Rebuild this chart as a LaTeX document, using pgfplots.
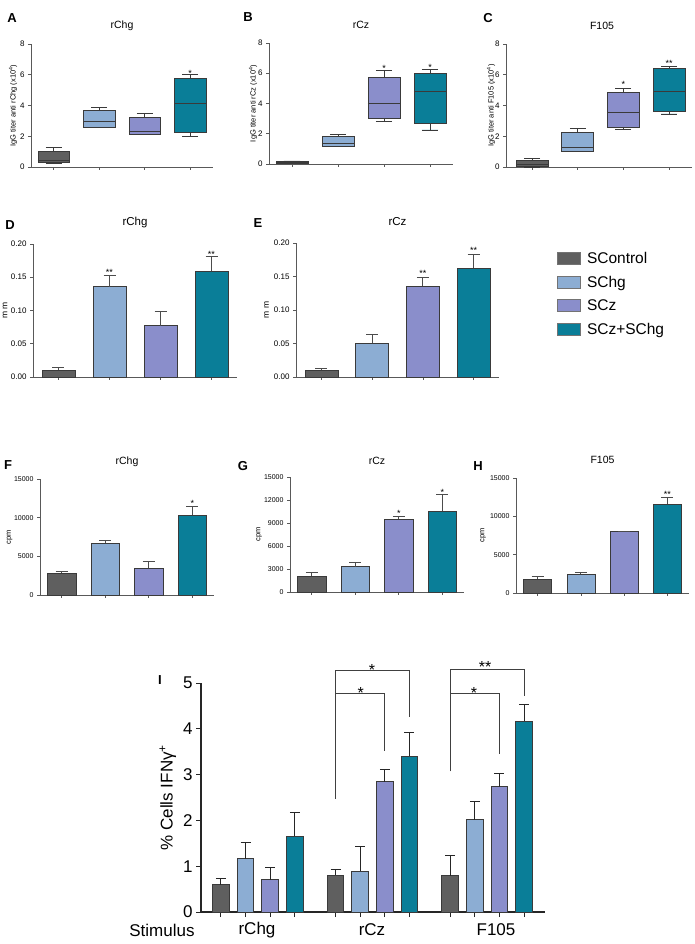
\documentclass[border=0pt]{standalone}
\usepackage{fontspec}
\setmainfont{Liberation Sans}
\usepackage{pgfplots}
\pgfplotsset{compat=1.18}
\usepgfplotslibrary{statistics}

\definecolor{cA}{HTML}{5F5F5F}
\definecolor{cB}{HTML}{8CADD3}
\definecolor{cC}{HTML}{8A8ECB}
\definecolor{cD}{HTML}{0A7E98}
\definecolor{ln}{HTML}{3A3A3A}

\pgfplotsset{
 every axis title/.style={at={(0.5,1)}, anchor=center, font=\fontsize{10.5}{12}\selectfont},
 panel/.style={scale only axis, anchor=south west, axis lines=left,
   axis line style={-, draw=black!65, line width=0.7pt},
   xtick={1,2,3,4}, xticklabels={}, tick align=outside, major tick length=3pt,
   tick style={draw=black!65, line width=0.7pt},
   tick label style={font=\fontsize{8}{9}\selectfont},
   scaled y ticks=false,
   /pgf/number format/assume math mode=true, /pgf/number format/1000 sep={},
   xmin=0.5, xmax=4.5, ymin=0, clip=false,
   ylabel style={font=\fontsize{7.5}{9}\selectfont, anchor=center}},
 ylx/.style={ylabel style={at={(axis description cs:#1,0.5)}}},
}

\newcommand{\bx}[7]{\addplot[boxplot prepared={draw direction=y, draw position=#1, lower whisker=#2, lower quartile=#3, median=#4, upper quartile=#5, upper whisker=#6, box extend=0.7, whisker extend=0.35}, fill=#7, draw=ln, line width=0.6pt] coordinates {};}
\newcommand{\bs}[4]{\addplot[ybar, bar shift=0pt, bar width=0.65, fill=#3, draw=ln, line width=0.6pt, error bars/.cd, y dir=plus, y explicit, error bar style={line width=0.8pt, draw=black!70}, error mark options={rotate=90, mark size=6pt, line width=0.8pt, draw=black!70}] coordinates {(#1,#2) +- (0,#4)};}
\newcommand{\bl}[2]{\addplot[ybar, bar shift=0pt, bar width=0.68, fill=#1, draw=ln, line width=1pt, error bars/.cd, y dir=plus, y explicit, error bar style={line width=1pt, draw=black!85}, error mark options={rotate=90, mark size=5pt, line width=1pt, draw=black!85}] coordinates {#2};}
\newcommand{\sts}[3]{\node[font=\fontsize{9}{10}\selectfont, anchor=base, yshift=-5.2pt] at (axis cs:#1,#2) {#3};}
\newcommand{\stl}[3]{\node[font=\fontsize{16}{18}\selectfont, anchor=base, yshift=-9.3pt] at (axis cs:#1,#2) {#3};}
\newcommand{\legimg}[1]{\addlegendimage{legend image code/.code={\draw[fill=#1, draw=black!55, line width=0.8pt] (0pt,-6pt) rectangle (23pt,6pt);}}}

\begin{document}
\begin{tikzpicture}
\useasboundingbox (0pt,0pt) rectangle (694pt,944pt);

% ---------- A ----------
\begin{axis}[panel, at={(31pt,777pt)}, width=182pt, height=123pt, ymax=8, ytick={0,2,4,6,8},
  title={rChg}, title style={yshift=18pt}, ylabel={IgG titer anti rChg (x10\textsuperscript{4})}, ylx=-0.099]
\bx{1}{0.25}{0.3}{0.45}{1.05}{1.25}{cA}
\bx{2}{2.55}{2.6}{3.0}{3.7}{3.9}{cB}
\bx{3}{2.15}{2.15}{2.3}{3.2}{3.5}{cC}
\bx{4}{2.0}{2.25}{4.15}{5.8}{6.0}{cD}
\sts{4}{6.24}{*}
\end{axis}

% ---------- B ----------
\begin{axis}[panel, at={(269pt,780pt)}, width=184pt, height=121pt, ymax=8, ytick={0,2,4,6,8},
  title={rCz}, title style={yshift=18pt}, ylabel={IgG titer anti rCz (x10\textsuperscript{4})}, ylx=-0.087]
\bx{1}{0.05}{0.05}{0.1}{0.15}{0.2}{cA}
\bx{2}{1.2}{1.2}{1.35}{1.85}{1.95}{cB}
\bx{3}{2.8}{3.0}{4.0}{5.7}{6.2}{cC}
\bx{4}{2.25}{2.7}{4.8}{6.0}{6.25}{cD}
\sts{3}{6.44}{*}
\sts{4}{6.5}{*}
\end{axis}

% ---------- C ----------
\begin{axis}[panel, at={(506pt,777pt)}, width=186pt, height=123pt, xmin=0.43, ymax=8, ytick={0,2,4,6,8},
  title={F105}, title style={yshift=18pt, at={(0.516,1)}}, ylabel={IgG titer anti F105 (x10\textsuperscript{4})}, ylx=-0.08]
\bx{1}{0.0}{0.05}{0.15}{0.45}{0.55}{cA}
\bx{2}{1.0}{1.0}{1.25}{2.25}{2.5}{cB}
\bx{3}{2.45}{2.6}{3.55}{4.85}{5.1}{cC}
\bx{4}{3.45}{3.6}{4.95}{6.4}{6.55}{cD}
\sts{3}{5.48}{*}
\sts{4}{6.9}{**}
\end{axis}

% ---------- D ----------
\begin{axis}[panel, at={(33pt,567pt)}, width=204pt, height=133pt, ymax=0.2, ytick={0,0.05,0.1,0.15,0.2},
  yticklabel style={/pgf/number format/.cd, fixed, fixed zerofill, precision=2},
  tick label style={font=\fontsize{8}{9}\selectfont},
  title={rChg}, title style={yshift=21pt, font=\fontsize{11.5}{13}\selectfont}, ylabel={m m},
  ylabel style={font=\fontsize{8.5}{9}\selectfont}, ylx=-0.137]
\bs{1}{0.010}{cA}{0.004}
\bs{2}{0.136}{cB}{0.017}
\bs{3}{0.077}{cC}{0.021}
\bs{4}{0.159}{cD}{0.022}
\sts{2}{0.161}{**}
\sts{4}{0.188}{**}
\end{axis}

% ---------- E ----------
\begin{axis}[panel, at={(296pt,567pt)}, width=203pt, height=134pt, ymax=0.2, ytick={0,0.05,0.1,0.15,0.2},
  yticklabel style={/pgf/number format/.cd, fixed, fixed zerofill, precision=2},
  tick label style={font=\fontsize{8}{9}\selectfont},
  title={rCz}, title style={yshift=21pt, font=\fontsize{11.5}{13}\selectfont}, ylabel={m m},
  ylabel style={font=\fontsize{8.5}{9}\selectfont}, ylx=-0.145]
\bs{1}{0.010}{cA}{0.003}
\bs{2}{0.050}{cB}{0.013}
\bs{3}{0.136}{cC}{0.013}
\bs{4}{0.162}{cD}{0.021}
\sts{3}{0.158}{**}
\sts{4}{0.192}{**}
\end{axis}

% ---------- legend ----------
\begin{axis}[at={(557pt,694pt)}, anchor=north west, scale only axis, width=10pt, height=10pt, hide axis,
  xmin=0, xmax=1, ymin=0, ymax=1, legend cell align=left,
  legend style={at={(0,1)}, anchor=north west, draw=none, fill=none, inner sep=0pt,
    font=\fontsize{15.5}{18}\selectfont, row sep=7pt, nodes={inner xsep=6pt}}]
\legimg{cA}\addlegendentry{SControl}
\legimg{cB}\addlegendentry{SChg}
\legimg{cC}\addlegendentry{SCz}
\legimg{cD}\addlegendentry{SCz+SChg}
\end{axis}

% ---------- F ----------
\begin{axis}[panel, at={(40pt,349pt)}, width=174pt, height=116pt, ymax=15000, ytick={0,5000,10000,15000},
  tick label style={font=\fontsize{7}{8}\selectfont},
  title={rChg}, title style={yshift=17pt}, ylabel={cpm}, ylx=-0.175]
\bs{1}{2800}{cA}{300}
\bs{2}{6700}{cB}{400}
\bs{3}{3500}{cC}{800}
\bs{4}{10360}{cD}{1040}
\sts{4}{12155}{*}
\end{axis}

% ---------- G ----------
\begin{axis}[panel, at={(290pt,352pt)}, width=174pt, height=115pt, ymax=15000, ytick={0,3000,6000,9000,12000,15000},
  tick label style={font=\fontsize{7}{8}\selectfont},
  title={rCz}, title style={yshift=16pt}, ylabel={cpm}, ylx=-0.178]
\bs{1}{2100}{cA}{500}
\bs{2}{3300}{cB}{500}
\bs{3}{9500}{cC}{300}
\bs{4}{10500}{cD}{2200}
\sts{3}{10474}{*}
\sts{4}{13213}{*}
\end{axis}

% ---------- H ----------
\begin{axis}[panel, at={(516pt,351pt)}, width=173pt, height=115pt, ymax=15000, ytick={0,5000,10000,15000},
  tick label style={font=\fontsize{7}{8}\selectfont},
  title={F105}, title style={yshift=18pt}, ylabel={cpm}, ylx=-0.19]
\bs{1}{1800}{cA}{300}
\bs{2}{2450}{cB}{300}
\bs{3}{8000}{cC}{50}
\bs{4}{11600}{cD}{900}
\sts{4}{13135}{**}
\end{axis}

% ---------- I ----------
\begin{axis}[scale only axis, anchor=south west, at={(201pt,32pt)}, width=344pt, height=229pt,
  axis lines=left, axis line style={-, line width=1.1pt, draw=black!85},
  xmin=-0.81, xmax=13.15, ymin=0, ymax=5, ytick={0,1,2,3,4,5},
  xtick={0,1,2,3,4.65,5.65,6.65,7.65,9.3,10.3,11.3,12.3}, xticklabels={},
  tick align=outside, major tick length=5pt, tick style={line width=1pt, draw=black!85},
  tick label style={font=\fontsize{17}{20}\selectfont},
  /pgf/number format/assume math mode=true,
  ylabel={\% Cells IFNγ\textsuperscript{+}}, ylabel style={font=\fontsize{17}{20}\selectfont}, clip=false]
\bl{cA}{(0,0.60) +- (0,0.14) (4.65,0.80) +- (0,0.12) (9.3,0.79) +- (0,0.44)}
\bl{cB}{(1,1.16) +- (0,0.36) (5.65,0.89) +- (0,0.53) (10.3,2.01) +- (0,0.40)}
\bl{cC}{(2,0.70) +- (0,0.28) (6.65,2.84) +- (0,0.28) (11.3,2.74) +- (0,0.29)}
\bl{cD}{(3,1.65) +- (0,0.52) (7.65,3.40) +- (0,0.51) (12.3,4.16) +- (0,0.37)}
\addplot[black!75, line width=1pt] coordinates {(4.65,2.47) (4.65,5.27) (7.65,5.27) (7.65,4.26)};
\addplot[black!75, line width=1pt] coordinates {(4.65,4.76) (6.65,4.76) (6.65,3.51)};
\addplot[black!75, line width=1pt] coordinates {(9.3,3.07) (9.3,5.30) (12.3,5.30) (12.3,4.71)};
\addplot[black!75, line width=1pt] coordinates {(9.3,4.77) (11.3,4.77) (11.3,3.44)};
\stl{6.13}{5.36}{*}
\stl{5.67}{4.86}{*}
\stl{10.72}{5.44}{**}
\stl{10.27}{4.87}{*}
\end{axis}

% ---------- texts ----------
\node[font=\bfseries\fontsize{13}{15}\selectfont] at (12pt,926pt) {A};
\node[font=\bfseries\fontsize{13}{15}\selectfont] at (248pt,927pt) {B};
\node[font=\bfseries\fontsize{13}{15}\selectfont] at (488pt,926pt) {C};
\node[font=\bfseries\fontsize{13}{15}\selectfont] at (10pt,719pt) {D};
\node[font=\bfseries\fontsize{13}{15}\selectfont] at (258pt,721pt) {E};
\node[font=\bfseries\fontsize{13}{15}\selectfont] at (8pt,479pt) {F};
\node[font=\bfseries\fontsize{13}{15}\selectfont] at (243pt,478pt) {G};
\node[font=\bfseries\fontsize{13}{15}\selectfont] at (478pt,478pt) {H};
\node[font=\bfseries\fontsize{13}{15}\selectfont] at (160pt,264pt) {I};
\node[font=\fontsize{17}{20}\selectfont] at (162pt,14pt) {Stimulus};
\node[font=\fontsize{17}{20}\selectfont] at (257pt,14pt) {rChg};
\node[font=\fontsize{17}{20}\selectfont] at (372pt,14pt) {rCz};
\node[font=\fontsize{17}{20}\selectfont] at (496pt,14pt) {F105};
\end{tikzpicture}
\end{document}
